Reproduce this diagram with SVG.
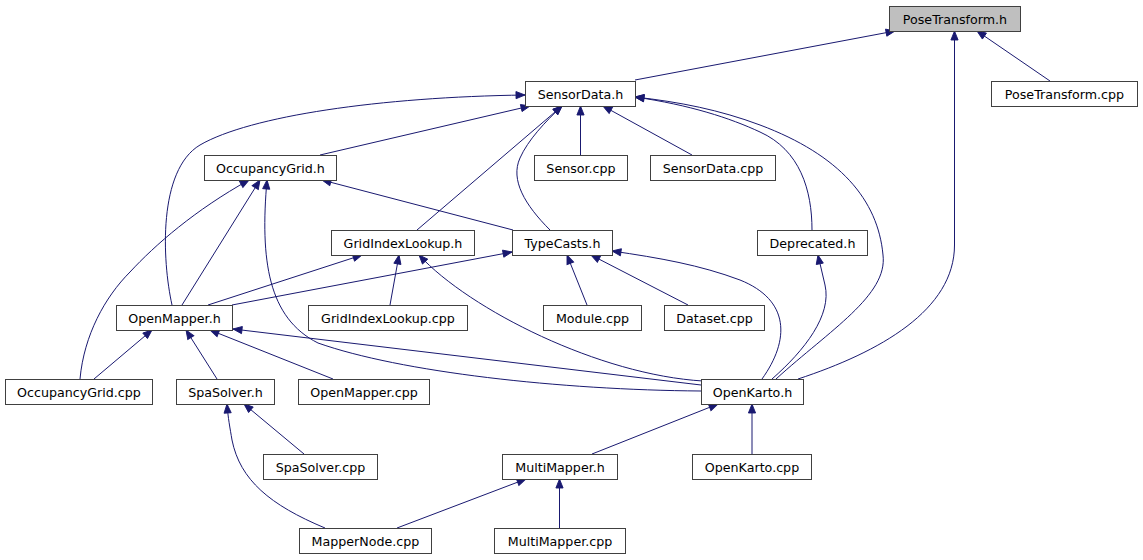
<svg xmlns="http://www.w3.org/2000/svg" width="1143" height="560" viewBox="0 0 1143 560">
<style>
.n rect{fill:#ffffff;stroke:#404040;stroke-width:1}
.n.root rect{fill:#bfbfbf}
.n text{font-family:"DejaVu Sans",sans-serif;font-size:12.67px;fill:#000;text-anchor:middle}
.e path{fill:none;stroke:#191970;stroke-width:1;marker-end:url(#ah)}
</style>
<defs>
<marker id="ah" markerUnits="userSpaceOnUse" markerWidth="12" markerHeight="9" refX="10" refY="4" orient="auto" viewBox="-1 -1 12 10">
<path d="M0,0 L10,4 L0,8 Z" fill="#191970" stroke="#191970" stroke-width="1"/>
</marker>
</defs>
<rect width="1143" height="560" fill="#ffffff"/>
<g id="edges" class="e">
<path d="M635,80 L895,31"/>
<path d="M1050,81 L977,31"/>
<path d="M798,379 C880,352 954.5,310 954.5,245 L954.5,31"/>
<path d="M320,155 L530,106"/>
<path d="M172,305 C162,260 158,170 200,145 C250,116 380,97 525,95"/>
<path d="M417,230 L562,106"/>
<path d="M550,230 C525,205 510,180 520,158 C528,140 545,122 562,106"/>
<path d="M580.5,155 L580.5,106"/>
<path d="M692,155 L603,106"/>
<path d="M812,230 C812,190 800,150 760,132 C730,118 690,105 635,97"/>
<path d="M776,379 C830,330 888,295 883,255 C878,200 840,155 760,125 C720,110 680,102 635,97"/>
<path d="M80,379 C84,335 105,297 130,272 C155,245 195,210 249,180"/>
<path d="M182,305 L260,180"/>
<path d="M701,391 C560,390 400,372 318,343 C268,318 260,260 267,180"/>
<path d="M513,230 L322,180"/>
<path d="M208,305 L362,255"/>
<path d="M390,305 L399,255"/>
<path d="M703,381 C600,375 470,310 419,255"/>
<path d="M232,305 L512,252"/>
<path d="M587,305 L567,255"/>
<path d="M688,305 L591,255"/>
<path d="M762,379 C790,340 790,300 740,280 C700,265 660,258 612,251"/>
<path d="M772,379 C805,350 832,315 825,285 C823,275 820,265 818,255"/>
<path d="M94,379 L152,330"/>
<path d="M217,379 L186,330"/>
<path d="M333,379 L210,330"/>
<path d="M701,385 L233,329"/>
<path d="M304,454 L244,404"/>
<path d="M325,528 C270,505 240,480 232,440 C230,428 228,418 227,404"/>
<path d="M592,454 L718,404"/>
<path d="M752,454 L752,404"/>
<path d="M397,528 L526,479"/>
<path d="M559.5,528 L559.5,479"/>
</g>
<g id="n_PoseTransform_h" class="n root"><rect x="889.5" y="6.5" width="131" height="25"/><text x="955" y="23.5">PoseTransform.h</text></g>
<g id="n_SensorData_h" class="n"><rect x="525.5" y="81.5" width="110" height="25"/><text x="580.5" y="98.5">SensorData.h</text></g>
<g id="n_PoseTransform_cpp" class="n"><rect x="991.5" y="81.5" width="146" height="25"/><text x="1064.5" y="98.5">PoseTransform.cpp</text></g>
<g id="n_OccupancyGrid_h" class="n"><rect x="204.5" y="155.5" width="132" height="25"/><text x="270.5" y="172.5">OccupancyGrid.h</text></g>
<g id="n_Sensor_cpp" class="n"><rect x="534.5" y="155.5" width="93" height="25"/><text x="581" y="172.5">Sensor.cpp</text></g>
<g id="n_SensorData_cpp" class="n"><rect x="650.5" y="155.5" width="125" height="25"/><text x="713" y="172.5">SensorData.cpp</text></g>
<g id="n_GridIndexLookup_h" class="n"><rect x="331.5" y="230.5" width="143" height="25"/><text x="403" y="247.5">GridIndexLookup.h</text></g>
<g id="n_TypeCasts_h" class="n"><rect x="512.5" y="230.5" width="100" height="25"/><text x="562.5" y="247.5">TypeCasts.h</text></g>
<g id="n_Deprecated_h" class="n"><rect x="757.5" y="230.5" width="110" height="25"/><text x="812.5" y="247.5">Deprecated.h</text></g>
<g id="n_OpenMapper_h" class="n"><rect x="116.5" y="305.5" width="116" height="25"/><text x="174.5" y="322.5">OpenMapper.h</text></g>
<g id="n_GridIndexLookup_cpp" class="n"><rect x="308.5" y="305.5" width="159" height="25"/><text x="388" y="322.5">GridIndexLookup.cpp</text></g>
<g id="n_Module_cpp" class="n"><rect x="543.5" y="305.5" width="98" height="25"/><text x="592.5" y="322.5">Module.cpp</text></g>
<g id="n_Dataset_cpp" class="n"><rect x="664.5" y="305.5" width="100" height="25"/><text x="714.5" y="322.5">Dataset.cpp</text></g>
<g id="n_OccupancyGrid_cpp" class="n"><rect x="5.5" y="379.5" width="147" height="25"/><text x="79" y="396.5">OccupancyGrid.cpp</text></g>
<g id="n_SpaSolver_h" class="n"><rect x="176.5" y="379.5" width="98" height="25"/><text x="225.5" y="396.5">SpaSolver.h</text></g>
<g id="n_OpenMapper_cpp" class="n"><rect x="298.5" y="379.5" width="131" height="25"/><text x="364" y="396.5">OpenMapper.cpp</text></g>
<g id="n_OpenKarto_h" class="n"><rect x="701.5" y="379.5" width="102" height="25"/><text x="752.5" y="396.5">OpenKarto.h</text></g>
<g id="n_SpaSolver_cpp" class="n"><rect x="263.5" y="454.5" width="114" height="25"/><text x="320.5" y="471.5">SpaSolver.cpp</text></g>
<g id="n_MultiMapper_h" class="n"><rect x="502.5" y="454.5" width="115" height="25"/><text x="560" y="471.5">MultiMapper.h</text></g>
<g id="n_OpenKarto_cpp" class="n"><rect x="692.5" y="454.5" width="119" height="25"/><text x="752" y="471.5">OpenKarto.cpp</text></g>
<g id="n_MapperNode_cpp" class="n"><rect x="299.5" y="528.5" width="132" height="25"/><text x="365.5" y="545.5">MapperNode.cpp</text></g>
<g id="n_MultiMapper_cpp" class="n"><rect x="494.5" y="528.5" width="131" height="25"/><text x="560" y="545.5">MultiMapper.cpp</text></g>
</svg>
